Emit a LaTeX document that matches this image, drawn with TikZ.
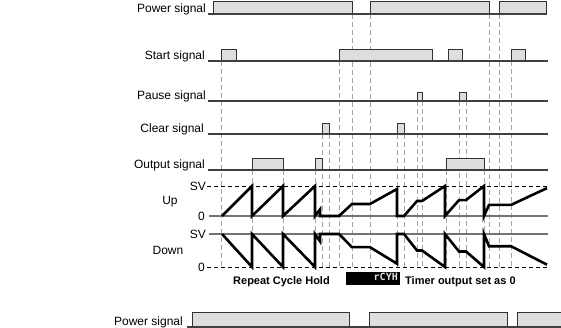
\documentclass[tikz,border=0pt]{standalone}
\usepackage{fontspec}
\setmainfont{Liberation Sans}
\newfontfamily\segfont{DejaVu Sans Mono}
\begin{document}
\begin{tikzpicture}[x=1pt,y=-1pt,
  lbl/.style={font=\fontsize{12}{14}\selectfont, anchor=base east, inner sep=0pt},
  blbl/.style={font=\fontsize{11}{13}\selectfont\bfseries, anchor=base west, inner sep=0pt},
  baseln/.style={draw=black!75, line width=1.1pt},
  pulse/.style={draw=black!80, fill=black!13, line width=0.9pt},
  guide/.style={draw=black!35, dash pattern=on 5pt off 3pt, line width=0.6pt},
  refdash/.style={draw=black, dash pattern=on 4pt off 3pt, line width=0.9pt},
  refgray/.style={draw=black!55, line width=1.4pt},
  wave/.style={draw=black, line width=2.6pt, line join=miter, miter limit=10}
]
\useasboundingbox (0,0) rectangle (561,328);

% guide lines
\foreach \x in {352,370,489,499} \draw[guide] (\x,14) -- (\x,267);
\foreach \x in {221,339,511} \draw[guide] (\x,61) -- (\x,267);
\foreach \x in {417,422,459,466} \draw[guide] (\x,101) -- (\x,267);
\foreach \x in {322,329,397,404} \draw[guide] (\x,134) -- (\x,267);
\foreach \x in {252,283,315,446,484} \draw[guide] (\x,170) -- (\x,267);

% labels
\node[lbl] (lpow) at (206,13) {Power signal};
\node[lbl] (lstart) at (205,60) {Start signal};
\node[lbl] (lpause) at (206,100) {Pause signal};
\node[lbl] (lclear) at (204,133) {Clear signal};
\node[lbl] (lout) at (205,169) {Output signal};
\node[lbl, anchor=east] (lsv1) at (206,186) {SV};
\node[lbl, anchor=base] (lup) at (170,205) {Up};
\node[lbl, anchor=east] (lz1) at (205,216) {0};
\node[lbl, anchor=east] (lsv2) at (206,234) {SV};
\node[lbl, anchor=center] (ldown) at (168,250) {Down};
\node[lbl, anchor=east] (lz2) at (205,267) {0};

% power signal
\path[pulse] (213,14) rectangle (352,1.5);
\path[pulse] (370,14) rectangle (489,1.5);
\path[pulse] (499,14) rectangle (546,1.5);
\draw[baseln] (208,14) -- (547,14);
% start signal
\path[pulse] (221,61) rectangle (236,49);
\path[pulse] (339,61) rectangle (432,49);
\path[pulse] (448,61) rectangle (462,49);
\path[pulse] (511,61) rectangle (525,49);
\draw[baseln] (208,61) -- (548,61);
% pause signal
\path[pulse] (417,101) rectangle (422,92);
\path[pulse] (459,101) rectangle (466,92);
\draw[baseln] (208,101) -- (548,101);
% clear signal
\path[pulse] (322,134) rectangle (329,123);
\path[pulse] (397,134) rectangle (404,123);
\draw[baseln] (208,134) -- (548,134);
% output signal
\path[pulse] (252,170) rectangle (283,158);
\path[pulse] (315,170) rectangle (322,158);
\path[pulse] (446,170) rectangle (484,158);
\draw[baseln] (208,170) -- (548,170);

% reference levels
\draw[refdash] (207,186) -- (548,186);
\draw[refgray] (209,216) -- (548,216);
\draw[refgray] (209,234) -- (548,234);
\draw[refdash] (207,267) -- (548,267);

% Up counting
\begin{scope}[shift={(0,216)}, yscale=-30]
\draw[wave] (222,0) -- (252,1) -- (252,0) -- (283,1) -- (283,0) -- (315,1) -- (315,0)
  -- (320,0.22) -- (320,0) -- (339,0) -- (352,0.4) -- (370,0.4) -- (397,0.9) -- (397,0)
  -- (404,0) -- (417,0.5) -- (422,0.5) -- (445,1) -- (445,0) -- (459,0.53) -- (466,0.53)
  -- (484,1) -- (484,0) -- (489,0.37) -- (511,0.37) -- (547,0.93);
\end{scope}
% Down counting
\begin{scope}[shift={(0,234)}, yscale=33]
\draw[wave] (222,0) -- (252,1) -- (252,0) -- (283,1) -- (283,0) -- (315,1) -- (315,0)
  -- (320,0.22) -- (320,0) -- (339,0) -- (352,0.4) -- (370,0.4) -- (397,0.9) -- (397,0)
  -- (404,0) -- (417,0.5) -- (422,0.5) -- (445,1) -- (445,0) -- (459,0.53) -- (466,0.53)
  -- (484,1) -- (484,0) -- (489,0.37) -- (511,0.37) -- (547,0.93);
\end{scope}

% caption
\node[blbl] (rch) at (233,284) {Repeat Cycle Hold};
\node[fill=black, minimum width=54pt, minimum height=13pt, inner sep=0pt] (disp) at (373,278.5) {};
\node[anchor=east, inner sep=0pt, text=black!12, font=\segfont\fontsize{10}{10}\selectfont\bfseries] (dtext) at (398,277) {rCYH};
\node[blbl] (tos) at (405,284) {Timer output set as 0};

% bottom power signal
\node[lbl] (lpow2) at (183,325) {Power signal};
\path[pulse] (192,327) rectangle (349,312);
\path[pulse] (369,327) rectangle (507,312);
\path[pulse] (517,327) rectangle (566,312);
\draw[baseln] (187,327) -- (562,327);
\end{tikzpicture}
\end{document}
